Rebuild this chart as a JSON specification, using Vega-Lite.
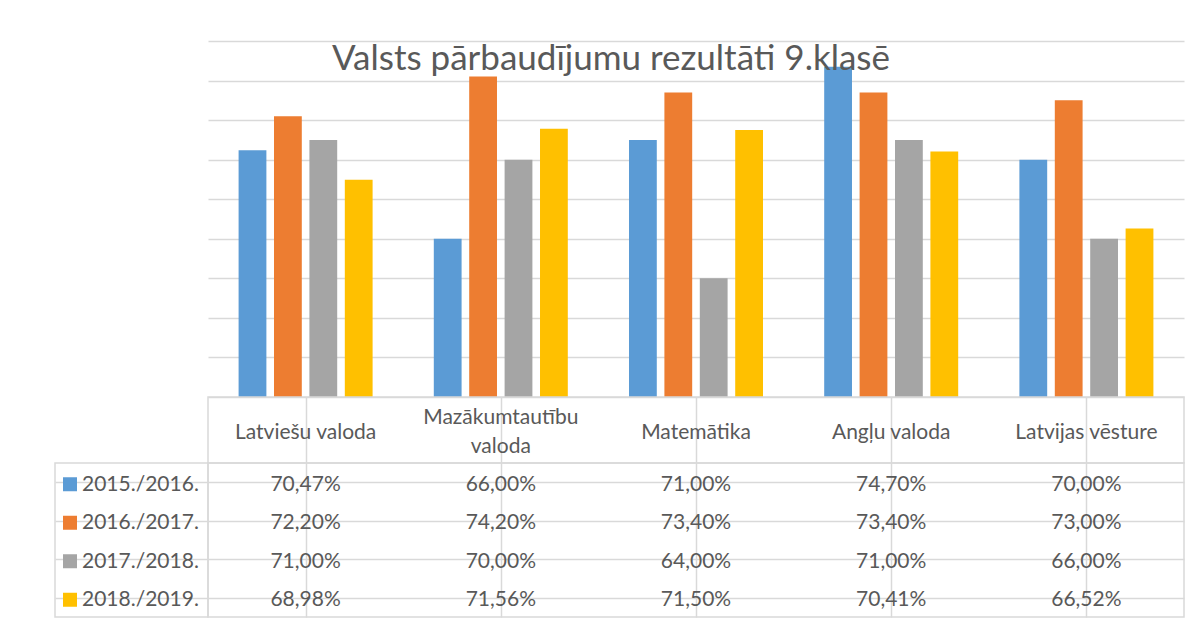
{
  "$schema": "https://vega.github.io/schema/vega-lite/v6.json",
  "background": "white",
  "padding": {"left": 54, "top": 41, "right": 0, "bottom": 0},
  "config": {"view": {"stroke": null}, "font": "Lato"},
  "datasets": {
    "scores": [
      {"subject": "Latviešu valoda", "year": "2015./2016.", "value": 70.47},
      {"subject": "Latviešu valoda", "year": "2016./2017.", "value": 72.20},
      {"subject": "Latviešu valoda", "year": "2017./2018.", "value": 71.00},
      {"subject": "Latviešu valoda", "year": "2018./2019.", "value": 68.98},
      {"subject": "Mazākumtautību valoda", "year": "2015./2016.", "value": 66.00},
      {"subject": "Mazākumtautību valoda", "year": "2016./2017.", "value": 74.20},
      {"subject": "Mazākumtautību valoda", "year": "2017./2018.", "value": 70.00},
      {"subject": "Mazākumtautību valoda", "year": "2018./2019.", "value": 71.56},
      {"subject": "Matemātika", "year": "2015./2016.", "value": 71.00},
      {"subject": "Matemātika", "year": "2016./2017.", "value": 73.40},
      {"subject": "Matemātika", "year": "2017./2018.", "value": 64.00},
      {"subject": "Matemātika", "year": "2018./2019.", "value": 71.50},
      {"subject": "Angļu valoda", "year": "2015./2016.", "value": 74.70},
      {"subject": "Angļu valoda", "year": "2016./2017.", "value": 73.40},
      {"subject": "Angļu valoda", "year": "2017./2018.", "value": 71.00},
      {"subject": "Angļu valoda", "year": "2018./2019.", "value": 70.41},
      {"subject": "Latvijas vēsture", "year": "2015./2016.", "value": 70.00},
      {"subject": "Latvijas vēsture", "year": "2016./2017.", "value": 73.00},
      {"subject": "Latvijas vēsture", "year": "2017./2018.", "value": 66.00},
      {"subject": "Latvijas vēsture", "year": "2018./2019.", "value": 66.52}
    ],
    "subjects": [
      {"subject": "Latviešu valoda", "header": "Latviešu valoda", "lines": 1},
      {"subject": "Mazākumtautību valoda", "header": "Mazākumtautību\nvaloda", "lines": 2},
      {"subject": "Matemātika", "header": "Matemātika", "lines": 1},
      {"subject": "Angļu valoda", "header": "Angļu valoda", "lines": 1},
      {"subject": "Latvijas vēsture", "header": "Latvijas vēsture", "lines": 1}
    ],
    "years": [
      {"year": "2015./2016."},
      {"year": "2016./2017."},
      {"year": "2017./2018."},
      {"year": "2018./2019."}
    ]
  },
  "columns": 2,
  "spacing": 0,
  "align": "each",
  "bounds": "flush",
  "resolve": {"scale": {"x": "independent", "y": "independent", "color": "independent", "xOffset": "independent"}},
  "concat": [
    {
      "width": 153, "height": 356,
      "data": {"values": []},
      "mark": "point"
    },
    {
      "width": 976, "height": 356,
      "data": {"name": "scores"},
      "title": {"text": "Valsts pārbaudījumu rezultāti 9.klasē", "font": "Lato", "fontSize": 35, "fontWeight": "normal", "color": "#595959", "anchor": "middle", "frame": "group", "offset": -36, "dx": -85},
      "mark": {"type": "bar", "clip": true},
      "encoding": {
        "x": {"field": "subject", "type": "nominal", "sort": ["Latviešu valoda", "Mazākumtautību valoda", "Matemātika", "Angļu valoda", "Latvijas vēsture"], "scale": {"paddingInner": 0.3135, "paddingOuter": 0.15675}, "axis": null},
        "xOffset": {"field": "year", "type": "nominal", "scale": {"paddingInner": 0.215, "paddingOuter": 0}},
        "y": {"field": "value", "type": "quantitative", "scale": {"domain": [58, 76], "nice": false, "zero": false}, "axis": {"title": null, "labels": false, "ticks": false, "domain": false, "grid": true, "gridColor": "#D9D9D9", "gridWidth": 1.3, "values": [58, 60, 62, 64, 66, 68, 70, 72, 74, 76]}},
        "color": {"field": "year", "type": "nominal", "scale": {"domain": ["2015./2016.", "2016./2017.", "2017./2018.", "2018./2019."], "range": ["#5B9BD5", "#ED7D31", "#A5A5A5", "#FFC000"]}, "legend": null}
      }
    },
    {
      "width": 153, "height": 66,
      "data": {"values": []},
      "mark": "point"
    },
    {
      "width": 976, "height": 66,
      "data": {"name": "subjects"},
      "view": {"stroke": "#D9D9D9", "strokeWidth": 1.5},
      "encoding": {
        "x": {"field": "subject", "type": "nominal", "sort": ["Latviešu valoda", "Mazākumtautību valoda", "Matemātika", "Angļu valoda", "Latvijas vēsture"], "scale": {"paddingInner": 0, "paddingOuter": 0}, "axis": {"title": null, "labels": false, "ticks": false, "domain": false, "grid": true, "bandPosition": 0, "gridColor": "#D9D9D9", "gridWidth": 1.5}},
        "text": {"field": "header", "type": "nominal"}
      },
      "layer": [
        {
          "transform": [{"filter": "datum.lines == 1"}],
          "mark": {"type": "text", "font": "Lato", "fontSize": 21, "color": "#595959", "baseline": "alphabetic", "dy": 8.5}
        },
        {
          "transform": [{"filter": "datum.lines == 2"}],
          "mark": {"type": "text", "font": "Lato", "fontSize": 21, "color": "#595959", "lineBreak": "\n", "lineHeight": 29, "baseline": "alphabetic", "dy": -6.5}
        }
      ]
    },
    {
      "width": 153, "height": 154,
      "data": {"name": "years"},
      "view": {"stroke": "#D9D9D9", "strokeWidth": 1.5},
      "encoding": {
        "y": {"field": "year", "type": "nominal", "sort": ["2015./2016.", "2016./2017.", "2017./2018.", "2018./2019."], "scale": {"paddingInner": 0, "paddingOuter": 0}, "axis": {"title": null, "labels": false, "ticks": false, "domain": false, "grid": true, "bandPosition": 0, "gridColor": "#D9D9D9", "gridWidth": 1.5}}
      },
      "layer": [
        {
          "mark": {"type": "square", "size": 196, "opacity": 1, "filled": true, "xOffset": -61.5, "yOffset": 2},
          "encoding": {
            "color": {"field": "year", "type": "nominal", "scale": {"domain": ["2015./2016.", "2016./2017.", "2017./2018.", "2018./2019."], "range": ["#5B9BD5", "#ED7D31", "#A5A5A5", "#FFC000"]}, "legend": null}
          }
        },
        {
          "mark": {"type": "text", "font": "Lato", "fontSize": 21, "color": "#595959", "align": "left", "baseline": "alphabetic", "dx": -49.5, "dy": 8.5},
          "encoding": {
            "text": {"field": "year", "type": "nominal"}
          }
        }
      ]
    },
    {
      "width": 976, "height": 154,
      "data": {"name": "scores"},
      "transform": [{"calculate": "replace(format(datum.value, '.2f'), '.', ',') + '%'", "as": "label"}],
      "view": {"stroke": "#D9D9D9", "strokeWidth": 1.5},
      "mark": {"type": "text", "font": "Lato", "fontSize": 21, "color": "#595959", "baseline": "alphabetic", "dy": 8.5},
      "encoding": {
        "x": {"field": "subject", "type": "nominal", "sort": ["Latviešu valoda", "Mazākumtautību valoda", "Matemātika", "Angļu valoda", "Latvijas vēsture"], "scale": {"paddingInner": 0, "paddingOuter": 0}, "axis": {"title": null, "labels": false, "ticks": false, "domain": false, "grid": true, "bandPosition": 0, "gridColor": "#D9D9D9", "gridWidth": 1.5}},
        "y": {"field": "year", "type": "nominal", "sort": ["2015./2016.", "2016./2017.", "2017./2018.", "2018./2019."], "scale": {"paddingInner": 0, "paddingOuter": 0}, "axis": {"title": null, "labels": false, "ticks": false, "domain": false, "grid": true, "bandPosition": 0, "gridColor": "#D9D9D9", "gridWidth": 1.5}},
        "text": {"field": "label", "type": "nominal"}
      }
    }
  ]
}
